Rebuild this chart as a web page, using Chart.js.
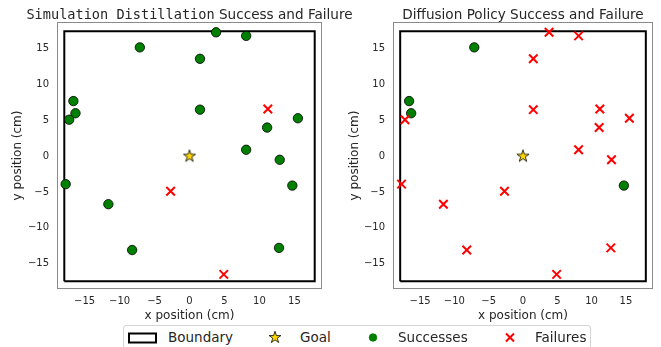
<!DOCTYPE html>
<html><head><meta charset="utf-8">
<script src="https://cdn.jsdelivr.net/npm/chart.js@4.4.1/dist/chart.umd.min.js"></script>
<style>
html,body{margin:0;padding:0;background:#fff;width:661px;height:347px;overflow:hidden;position:relative;}
canvas{display:block;}
#c1{position:absolute;left:0;top:0;}
#c2{position:absolute;left:330px;top:0;}
#legend{position:absolute;left:123px;top:325px;width:466px;height:30px;border:1px solid #d4d4d4;border-radius:3px;background:#fff;font-family:"DejaVu Sans";font-size:13.5px;color:#262626;}
#legend span{position:absolute;top:3px;line-height:16px;white-space:nowrap;}
#legend canvas{position:absolute;}
</style>
</head><body>
<canvas id="c1" width="400" height="325"></canvas>
<canvas id="c2" width="331" height="325"></canvas>
<div id="legend">
  <canvas id="lgBox" width="30" height="12" style="left:4px;top:6px"></canvas>
  <span style="left:44px">Boundary</span>
  <canvas id="lgStar" width="20" height="20" style="left:141px;top:1px"></canvas>
  <span style="left:176px">Goal</span>
  <canvas id="lgDot" width="20" height="20" style="left:239px;top:1px"></canvas>
  <span style="left:274px">Successes</span>
  <canvas id="lgCross" width="20" height="20" style="left:376px;top:1px"></canvas>
  <span style="left:411px">Failures</span>
</div>
<script>
// ---- data ----
const posX = [-7.1, 3.8, 8.1, 1.5, -16.6, -16.3, -17.2, 1.5, 11.2, 15.5, 11.1, 8.1, 12.9, -17.7, -2.7, -11.6, -8.2, 14.7, 12.8, 4.9];
const posY = [15.2, 17.3, 16.8, 13.6, 7.7, 6.0, 5.1, 6.5, 6.6, 5.3, 4.0, 0.9, -0.5, -3.9, -4.9, -6.7, -13.1, -4.1, -12.8, -16.5];
const simOutcome = [1,1,1,1,1,1,1,1,0,1,1,1,1,1,0,1,1,1,1,0];
const dpOutcome  = [1,0,0,0,1,1,0,0,0,0,0,0,0,0,0,0,0,1,0,0];
const goalX = [0];
const goalY = [0];
const boundaryX = [-17.9, 17.9, 17.9, -17.9, -17.9];
const boundaryY = [-17.45, -17.45, 17.45, 17.45, -17.45];
const tickVals = [-15, -10, -5, 0, 5, 10, 15];
const xLimits = [-18.8, 18.8];
const yLimits = [-18.4, 18.6];

const TEXT = '#262626';
const SANS = 'DejaVu Sans';

function starCanvas(size, R) {
  const c = document.createElement('canvas');
  c.width = size; c.height = size;
  const g = c.getContext('2d');
  drawStar(g, size/2, size/2, R);
  return c;
}
function drawStar(g, cx, cy, R) {
  const r = R * 0.381966;
  g.beginPath();
  for (let i = 0; i < 10; i++) {
    const a = -Math.PI/2 + i * Math.PI/5;
    const rr = i % 2 === 0 ? R : r;
    const px = cx + rr * Math.cos(a), py = cy + rr * Math.sin(a);
    if (i === 0) g.moveTo(px, py); else g.lineTo(px, py);
  }
  g.closePath();
  g.fillStyle = '#FFD700';
  g.fill();
  g.lineWidth = 0.8;
  g.strokeStyle = '#000';
  g.stroke();
}
const starImg = starCanvas(16, 6.4);

const fmt = v => v < 0 ? '\u2212' + Math.abs(v) : String(v);

const framePlugin = {
  id: 'frame',
  afterDraw(chart) {
    const {ctx, chartArea: a} = chart;
    ctx.save();
    ctx.strokeStyle = '#8a8a8a';
    ctx.lineWidth = 1;
    ctx.strokeRect(Math.round(a.left) - 0.5, Math.round(a.top) - 0.5, Math.round(a.right) - Math.round(a.left) + 1, Math.round(a.bottom) - Math.round(a.top) + 1);
    ctx.restore();
  }
};
const titlePlugin = {
  id: 'mtitle',
  afterDraw(chart, args, opts) {
    const {ctx, chartArea: a} = chart;
    const cx = (a.left + a.right) / 2;
    ctx.save();
    let total = 0;
    const segs = opts.segments.map(s => { ctx.font = s.font; const w = ctx.measureText(s.text).width; total += w; return {text: s.text, font: s.font, w}; });
    let x = cx - total / 2;
    ctx.fillStyle = TEXT; ctx.textBaseline = 'alphabetic'; ctx.textAlign = 'left';
    segs.forEach(s => { ctx.font = s.font; ctx.fillText(s.text, x, opts.y); x += s.w; });
    ctx.restore();
  }
};

function pts(xs, ys, mask, want) {
  const out = [];
  xs.forEach((x, i) => { if (mask === null || mask[i] === want) out.push({x, y: ys[i]}); });
  return out;
}

function makeChart(id, outcome, titleSegs, yAxisW, yTitlePad, padRight) {
  return new Chart(document.getElementById(id), {
    type: 'scatter',
    data: {
      datasets: [
        {label: 'Boundary', type: 'line', data: pts(boundaryX, boundaryY, null), showLine: true, fill: false,
         borderColor: '#000', borderWidth: 2, pointRadius: 0, tension: 0, order: 3},
        {label: 'Successes', data: pts(posX, posY, outcome, 1), pointStyle: 'circle', pointRadius: 4.7,
         backgroundColor: '#008000', borderColor: '#000', borderWidth: 0.8, order: 2},
        {label: 'Failures', data: pts(posX, posY, outcome, 0), pointStyle: 'crossRot', pointRadius: 6,
         borderColor: '#ff0000', backgroundColor: '#ff0000', borderWidth: 2, order: 1},
        {label: 'Goal', data: pts(goalX, goalY, null), pointStyle: starImg, pointRadius: 8, order: 0}
      ]
    },
    options: {
      responsive: false, animation: false, devicePixelRatio: 1,
      layout: {padding: {top: 23, right: padRight, left: 0, bottom: 0}},
      plugins: {legend: {display: false}, tooltip: {enabled: false}, title: {display: false},
        mtitle: {segments: titleSegs, y: 18.5}},
      scales: {
        x: {type: 'linear', min: xLimits[0], max: xLimits[1],
          grid: {display: false, drawTicks: false}, border: {display: false},
          afterBuildTicks: s => { s.ticks = tickVals.map(v => ({value: v})); },
          afterFit: s => { s.height = 37; },
          ticks: {padding: 7, autoSkip: false, maxRotation: 0, color: TEXT, font: {family: SANS, size: 10}, callback: v => fmt(v)},
          title: {display: true, text: 'x position (cm)', color: TEXT, font: {family: SANS, size: 12}, padding: {top: 0, bottom: 2}}},
        y: {type: 'linear', min: yLimits[0], max: yLimits[1],
          grid: {display: false, drawTicks: false}, border: {display: false},
          afterBuildTicks: s => { s.ticks = tickVals.map(v => ({value: v})); },
          afterFit: s => { s.width = yAxisW; },
          ticks: {padding: 9, autoSkip: false, color: TEXT, font: {family: SANS, size: 10}, callback: v => fmt(v)},
          title: {display: true, text: 'y position (cm)', color: TEXT, font: {family: SANS, size: 12}, padding: {top: yTitlePad, bottom: 0}}}
      }
    },
    plugins: [framePlugin, titlePlugin]
  });
}

makeChart('c1', simOutcome,
  [{text: 'Simulation Distillation', font: '13.6px "DejaVu Sans Mono"'}, {text: ' Success and Failure', font: '13.6px "DejaVu Sans"'}],
  58, 10.3, 79);
makeChart('c2', dpOutcome,
  [{text: 'Diffusion Policy Success and Failure', font: '13.6px "DejaVu Sans"'}],
  64, 17.8, 3);

// ---- legend icons ----
(function () {
  let g = document.getElementById('lgBox').getContext('2d');
  g.fillStyle = '#fff'; g.fillRect(1, 1, 27, 9);
  g.strokeStyle = '#000'; g.lineWidth = 2; g.strokeRect(1, 1.5, 27, 9);
  g = document.getElementById('lgStar').getContext('2d');
  drawStar(g, 10, 10.5, 6.2);
  g = document.getElementById('lgDot').getContext('2d');
  g.beginPath(); g.arc(10, 10.5, 3.8, 0, Math.PI * 2);
  g.fillStyle = '#008000'; g.fill(); g.lineWidth = 0.8; g.strokeStyle = '#008000'; g.stroke();
  g = document.getElementById('lgCross').getContext('2d');
  g.strokeStyle = '#ff0000'; g.lineWidth = 2;
  g.beginPath(); g.moveTo(6, 6.5); g.lineTo(14, 14.5); g.moveTo(14, 6.5); g.lineTo(6, 14.5); g.stroke();
})();
</script>
</body></html>
